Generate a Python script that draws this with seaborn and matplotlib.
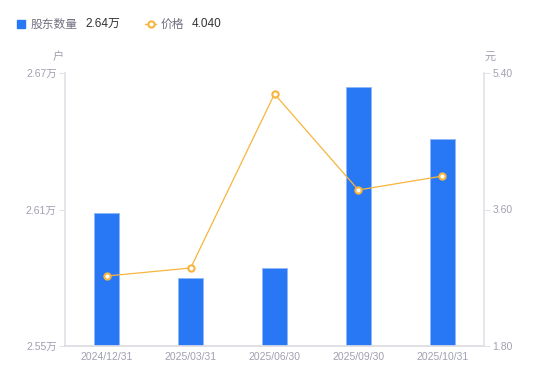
import pandas as pd
import seaborn as sns
import matplotlib.pyplot as plt
from matplotlib.patches import Rectangle
from matplotlib.lines import Line2D

dates = ["2024/12/31", "2025/03/31", "2025/06/30", "2025/09/30", "2025/10/31"]
holders = [2.6085, 2.5800, 2.5843, 2.6638, 2.6410]  # 万户
prices = [2.723, 2.829, 5.123, 3.857, 4.040]  # 元

left_ticks = [2.55, 2.61, 2.67]
left_labels = ["2.55万", "2.61万", "2.67万"]
right_ticks = [1.80, 3.60, 5.40]
right_labels = ["1.80", "3.60", "5.40"]

BLUE = "#2878f5"
ORANGE = "#f7b53d"
TICK = "#a0a0b0"
SPINE = "#e2e2e8"

sns.set_theme(style="white")
plt.rcParams["font.family"] = ["Liberation Sans", "Noto Sans CJK SC", "DejaVu Sans"]

df = pd.DataFrame({"date": dates, "holders": holders, "price": prices})

fig = plt.figure(figsize=(5.5, 3.81), dpi=100)
ax = fig.add_axes([65 / 550, 1 - 346 / 381, 419 / 550, 273 / 381])

sns.barplot(data=df, x="date", y="holders", color=BLUE, width=0.3,
            edgecolor="#8fb8fa", linewidth=0.6, saturation=1, ax=ax)
ax.set_ylim(2.55, 2.67)
ax.set_yticks(left_ticks)
ax.set_yticklabels(left_labels)
ax.set_xlim(-0.5, len(dates) - 0.5)

ax2 = ax.twinx()
sns.lineplot(data=df, x="date", y="price", color=ORANGE, linewidth=0.9,
             marker="o", markersize=4.5, markerfacecolor="white",
             markeredgecolor=ORANGE, markeredgewidth=1.5, ax=ax2)
ax2.set_ylim(1.80, 5.40)
ax2.set_yticks(right_ticks)
ax2.set_yticklabels(right_labels)

for a in (ax, ax2):
    a.set_xlabel("")
    a.set_ylabel("")
    for s in a.spines.values():
        s.set_visible(False)
    a.tick_params(axis="both", colors=TICK, labelsize=7.5, length=0)

ax.spines["left"].set_visible(True)
ax.spines["left"].set_color(SPINE)
ax.spines["bottom"].set_visible(True)
ax.spines["bottom"].set_color("#dcdce2")
ax2.spines["right"].set_visible(True)
ax2.spines["right"].set_color(SPINE)
ax.tick_params(axis="y", length=4, width=0.8, color=SPINE, pad=2)
ax2.tick_params(axis="y", length=4, width=0.8, color=SPINE, pad=2)
ax.tick_params(axis="x", pad=4)

# unit labels
cjk = ["Noto Sans CJK SC", "DejaVu Sans"]
fig.text(58 / 550, 1 - 57 / 381, "户", color=TICK, fontsize=8, ha="center", va="center", family=cjk)
fig.text(490 / 550, 1 - 57 / 381, "元", color=TICK, fontsize=8, ha="center", va="center", family=cjk)

# legend
ly = 1 - 24 / 381
fig.add_artist(Rectangle((17 / 550, 1 - 28 / 381), 8 / 550, 8 / 381,
                         transform=fig.transFigure, color=BLUE))
fig.text(31 / 550, ly, "股东数量", color="#707080", fontsize=8.5, va="center", family=cjk)
fig.text(85 / 550, ly, "2.64万", color="#333333", fontsize=8.5, va="center")
fig.add_artist(Line2D([145 / 550, 156 / 550], [ly, ly], transform=fig.transFigure,
                      color=ORANGE, linewidth=1))
fig.add_artist(Line2D([150.5 / 550], [ly], transform=fig.transFigure, color=ORANGE,
                      marker="o", markersize=4.5, markerfacecolor="white",
                      markeredgewidth=1.5))
fig.text(161 / 550, ly, "价格", color="#707080", fontsize=8.5, va="center", family=cjk)
fig.text(192 / 550, ly, "4.040", color="#333333", fontsize=8.5, va="center")

fig.savefig("out.png", dpi=100)
